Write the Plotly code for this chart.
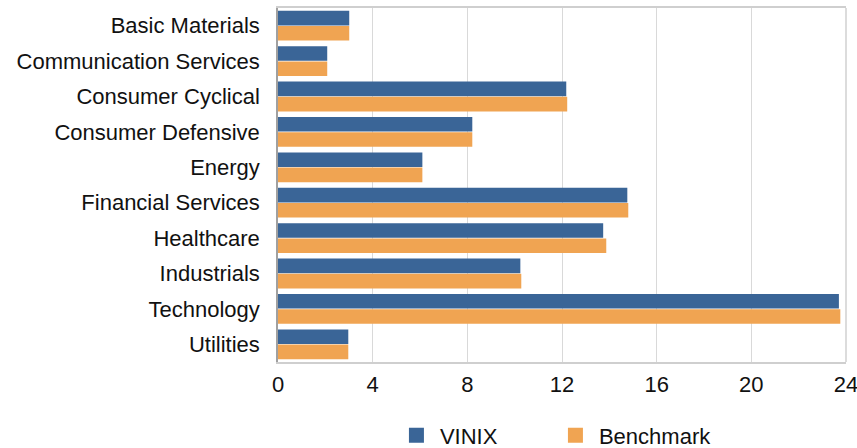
import plotly.graph_objects as go

categories = ["Basic Materials", "Communication Services", "Consumer Cyclical",
              "Consumer Defensive", "Energy", "Financial Services", "Healthcare",
              "Industrials", "Technology", "Utilities"]
vinix = [3.01, 2.08, 12.18, 8.21, 6.10, 14.76, 13.74, 10.24, 23.70, 2.97]
benchmark = [3.01, 2.08, 12.22, 8.21, 6.10, 14.80, 13.87, 10.28, 23.76, 2.97]
x_ticks = [0, 4, 8, 12, 16, 20, 24]

BLUE = "#3A6597"
ORANGE = "#F0A452"
FONT = "Liberation Sans, Arial, sans-serif"

fig = go.Figure()
fig.add_trace(go.Bar(name="VINIX", y=categories, x=vinix, orientation="h",
                     marker=dict(color=BLUE, line=dict(width=0)), showlegend=False))
fig.add_trace(go.Bar(name="Benchmark", y=categories, x=benchmark, orientation="h",
                     marker=dict(color=ORANGE, line=dict(width=0)), showlegend=False))
# legend entries
fig.add_trace(go.Scatter(name="VINIX", x=[None], y=[None], mode="markers",
                         marker=dict(symbol="square", size=15, color=BLUE)))
fig.add_trace(go.Scatter(name="Benchmark", x=[None], y=[None], mode="markers",
                         marker=dict(symbol="square", size=15, color=ORANGE)))

fig.update_layout(
    width=857, height=448,
    margin=dict(l=278, r=11, t=8, b=86, autoexpand=False),
    paper_bgcolor="white", plot_bgcolor="white",
    barmode="group", bargap=0.14, bargroupgap=0.04,
    font=dict(family=FONT, color="#111111", size=22),
    legend=dict(orientation="h", xref="container", yref="container",
                x=0.4585, xanchor="left", y=0.028, yanchor="middle",
                font=dict(size=22, family=FONT), entrywidth=107, itemwidth=37,
                itemclick=False),
    shapes=[dict(type="line", xref="paper", yref="paper", x0=1, x1=1, y0=0, y1=1,
                 line=dict(color="#d0d0d0", width=1.5))],
)
fig.update_xaxes(range=[0, 24], tickvals=x_ticks, ticktext=[str(v) for v in x_ticks],
                 showgrid=True, gridcolor="#d9d9d9", gridwidth=1,
                 showline=True, linecolor="#cfcfcf", linewidth=1.5, mirror=True,
                 zeroline=False, ticks="", ticklen=0, automargin=False,
                 ticklabeloverflow="allow", ticklabelstandoff=2,
                 tickfont=dict(size=22, family=FONT, color="#111111"))
fig.update_yaxes(categoryorder="array", categoryarray=categories, autorange="reversed",
                 showgrid=False, showline=True, linecolor="#a0a0a0", linewidth=1.5,
                 ticks="", ticklabelstandoff=12, automargin=False,
                 tickfont=dict(size=22, family=FONT, color="#111111"))

fig.write_html("out.html", config={"displayModeBar": False},
               post_script="document.body.style.margin='0';document.body.style.overflow='hidden';")
